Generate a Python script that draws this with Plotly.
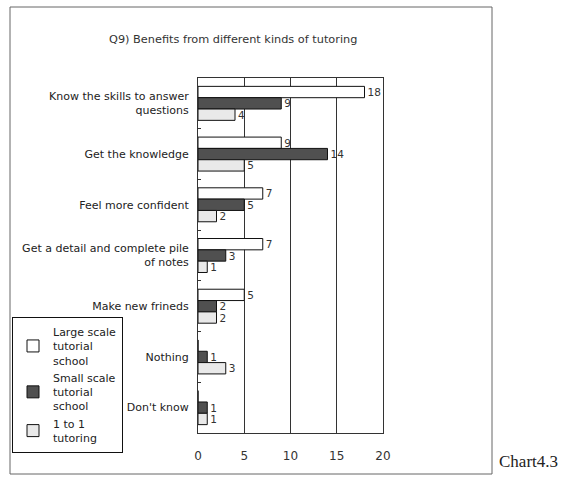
import plotly.graph_objects as go

# Survey results: benefits reported for each kind of tutoring
categories = [
    "Know the skills to answer<br>questions",
    "Get the knowledge",
    "Feel more confident",
    "Get a detail and complete pile<br>of notes",
    "Make new frineds",
    "Nothing",
    "Don't know",
]
large_scale = [18, 9, 7, 7, 5, 0, 0]
small_scale = [9, 14, 5, 3, 2, 1, 1]
one_to_one = [4, 5, 2, 1, 2, 3, 1]

series_names = [
    "Large scale<br>tutorial<br>school",
    "Small scale<br>tutorial<br>school",
    "1 to 1<br>tutoring",
]
series_values = [large_scale, small_scale, one_to_one]
series_colors = ["#ffffff", "#505050", "#e9e9e9"]

W, H = 567, 478
L, R, T, B = 198, 383, 78, 433  # plot area in pixels
FONT = "DejaVu Sans"


def px_x(x):
    return (x - L) / (R - L)


def px_y(y):
    return (B - y) / (B - T)


fig = go.Figure()
for name, vals, col in zip(series_names, series_values, series_colors):
    fig.add_trace(go.Bar(
        y=categories,
        x=vals,
        name=name,
        orientation="h",
        marker=dict(color=col, line=dict(color="#111111", width=1)),
        text=[str(v) if v else "" for v in vals],
        textposition="outside",
        textfont=dict(family=FONT, size=10.5, color="#333333"),
        constraintext="none",
        cliponaxis=False,
    ))

fig.update_layout(
    width=W,
    height=H,
    margin=dict(l=L, r=W - R, t=T, b=H - B),
    paper_bgcolor="white",
    plot_bgcolor="white",
    barmode="group",
    bargap=0.33,
    bargroupgap=0,
    font=dict(family=FONT, size=11, color="#222222"),
    showlegend=True,
    legend=dict(
        x=px_x(12), y=px_y(317), xanchor="left", yanchor="top",
        bordercolor="#111111", borderwidth=1, bgcolor="white",
        traceorder="normal",
        font=dict(family=FONT, size=11, color="#222222"),
        tracegroupgap=3,
        itemwidth=30,
    ),
    xaxis=dict(
        range=[0, 20], dtick=5, showgrid=True, gridcolor="#333333", gridwidth=1,
        showline=True, linecolor="#333333", linewidth=1, mirror=True,
        ticks="", zeroline=False,
        tickfont=dict(family=FONT, size=12, color="#333333"),
        ticklabelstandoff=12,
    ),
    yaxis=dict(
        autorange="reversed",
        showline=True, linecolor="#333333", linewidth=1, mirror=True,
        tickson="boundaries", ticks="inside", ticklen=3, tickcolor="#333333",
        showgrid=False,
        tickfont=dict(family=FONT, size=11, color="#222222"),
        ticklabelstandoff=6,
    ),
    shapes=[
        dict(type="rect", xref="paper", yref="paper",
             x0=px_x(10), x1=px_x(492), y0=px_y(474), y1=px_y(7),
             line=dict(color="#666666", width=1), layer="below"),
    ],
    annotations=[
        dict(text="Q9) Benefits from different kinds of tutoring",
             xref="paper", yref="paper", x=px_x(233), y=px_y(40),
             xanchor="center", yanchor="middle", showarrow=False,
             font=dict(family=FONT, size=11.3, color="#333333")),
        dict(text="Chart4.3", xref="paper", yref="paper",
             x=px_x(497), y=px_y(462), xanchor="left", yanchor="middle",
             showarrow=False,
             font=dict(family="Liberation Serif", size=17, color="#222222")),
    ],
)

fig.write_html("out.html")
